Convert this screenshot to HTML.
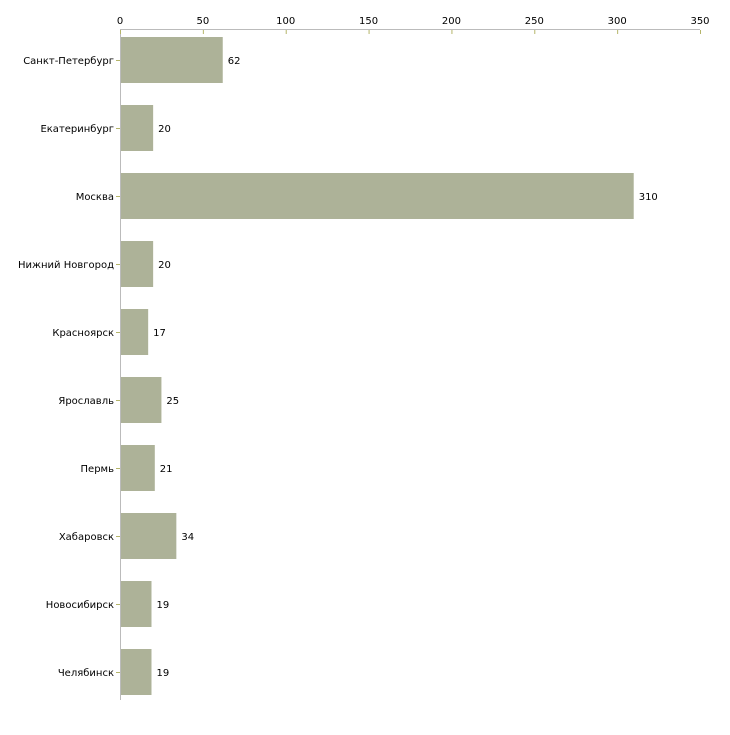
<!DOCTYPE html>
<html><head><meta charset="utf-8"><style>
body{margin:0;background:#fff;}
text{font-family:"DejaVu Sans","Liberation Sans",sans-serif;font-size:10px;fill:#000;}
</style></head><body>
<svg id="chart" width="730" height="730" xmlns="http://www.w3.org/2000/svg"></svg>
<script>
const categories=["Санкт-Петербург","Екатеринбург","Москва","Нижний Новгород","Красноярск","Ярославль","Пермь","Хабаровск","Новосибирск","Челябинск"];
const values=[62,20,310,20,17,25,21,34,19,19];
const ticks=[0,50,100,150,200,250,300,350];
const svg=document.getElementById('chart');
const NS='http://www.w3.org/2000/svg';
const x0=120,x1=700,xmax=350,top0=26,band=68,barH=46;
const x=v=>x0+(v/xmax)*(x1-x0);
const yc=i=>top0+band*i+band/2;
function mk(t,a){const e=document.createElementNS(NS,t);for(const k in a)e.setAttribute(k,a[k]);svg.appendChild(e);return e;}
let e=mk('line',{x1:x0,y1:29.5,x2:x1,y2:29.5,stroke:'#bbb'});


e=mk('line',{x1:x0+0.5,y1:29.5,x2:x0+0.5,y2:700,stroke:'#bbb'});


ticks.forEach(t=>{
 let l=mk('line',{x1:x(t)+0.5,y1:30,x2:x(t)+0.5,y2:34,stroke:'#b5b56a'});
 
 
 let tx=mk('text',{x:x(t),y:24,'text-anchor':'middle'});tx.textContent=t;
 
 
});
categories.forEach((c,i)=>{
 const cy=yc(i);
 let l=mk('line',{x1:116,y1:cy+0.5,x2:120,y2:cy+0.5,stroke:'#b5b56a'});
 
 
 let lb=mk('text',{x:114,y:cy+4,'text-anchor':'end'});lb.textContent=c;
 
 
 let r=mk('rect',{x:x0+1,y:cy-barH/2,width:x(values[i])-x0-1,height:barH,fill:'#adb298'});
 
 
 let v=mk('text',{x:x(values[i])+5,y:cy+4});v.textContent=values[i];
 
 
});
</script>
</body></html>
